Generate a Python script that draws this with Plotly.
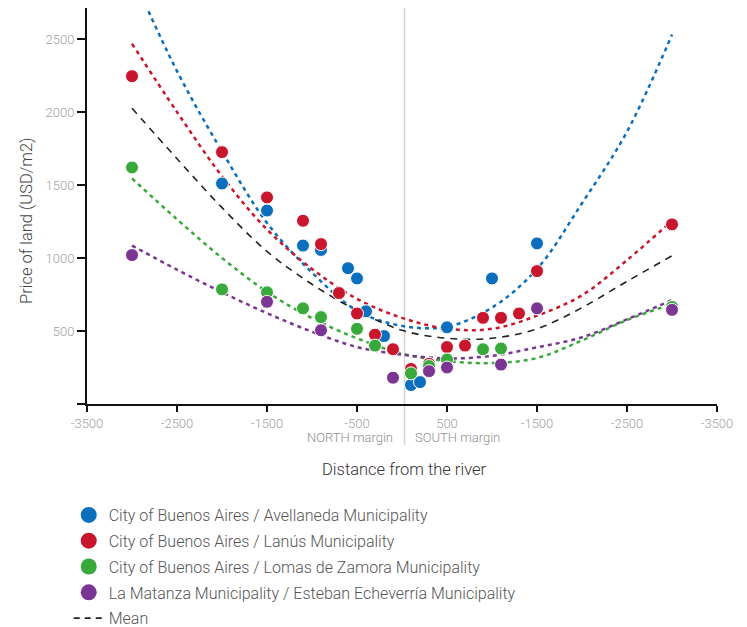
import plotly.graph_objects as go

# ---------------- data ----------------
series_names = [
    "City of Buenos Aires / Avellaneda Municipality",
    "City of Buenos Aires / Lanús Municipality",
    "City of Buenos Aires / Lomas de Zamora Municipality",
    "La Matanza Municipality / Esteban Echeverría Municipality",
]
series_colors = ["#0b6fbd", "#c8162c", "#38a93a", "#7b3593"]

blue_x = [-2000, -1500, -1100, -900, -600, -500, -400, -200, 100, 200, 500, 1000, 1500]
blue_y = [1510, 1325, 1085, 1055, 930, 860, 635, 465, 130, 150, 525, 860, 1100]

red_x = [-3000, -2000, -1500, -1100, -900, -700, -500, -300, -100, 100, 300, 500, 700, 900, 1100, 1300, 1500, 3000]
red_y = [2245, 1725, 1415, 1255, 1095, 760, 620, 475, 375, 240, 275, 390, 400, 590, 590, 620, 910, 1230]

green_x = [-3000, -2000, -1500, -1100, -900, -500, -300, 100, 300, 500, 900, 1100, 3000]
green_y = [1620, 785, 765, 655, 595, 515, 400, 210, 260, 305, 375, 380, 665]

purple_x = [-3000, -1500, -900, -100, 300, 500, 1100, 1500, 3000]
purple_y = [1020, 700, 505, 180, 225, 250, 270, 655, 645]

# trend lines
trend_x = [-3000, -2500, -2000, -1500, -1000, -500, 0, 500, 1000, 1500, 2000, 2500, 3000]
blue_trend = [2940, 2280, 1730, 1240, 900, 640, 535, 530, 660, 925, 1375, 1865, 2530]
red_trend = [2467, 2000, 1560, 1195, 925, 720, 590, 516, 515, 605, 745, 985, 1255]
green_trend = [1545, 1265, 1000, 768, 588, 450, 345, 295, 280, 315, 435, 575, 685]
purple_trend = [1085, 920, 765, 622, 495, 390, 338, 312, 330, 388, 457, 580, 712]
mean_trend = [2025, 1680, 1345, 1045, 820, 640, 505, 450, 450, 515, 660, 840, 1015]

x_tickvals = [-3500, -2500, -1500, -500, 500, 1500, 2500, 3500]
x_ticktext = ["-3500", "-2500", "-1500", "-500", "500", "-1500", "-2500", "-3500"]
y_tickvals = [0, 500, 1000, 1500, 2000, 2500]
y_ticktext = ["", "500", "1000", "1500", "2000", "2500"]

FONT = "Roboto, Liberation Sans, Arial, sans-serif"
W = 300

fig = go.Figure()

series_x = [blue_x, red_x, green_x, purple_x]
series_y = [blue_y, red_y, green_y, purple_y]
trends = [blue_trend, red_trend, green_trend, purple_trend]

# trend lines
for tr, col in zip(trends, series_colors):
    fig.add_trace(go.Scatter(
        x=trend_x, y=tr, mode="lines", line=dict(color=col, width=2.5, dash="4px,4px", shape="spline"),
        showlegend=False, hoverinfo="skip"))
fig.add_trace(go.Scatter(
    x=trend_x, y=mean_trend, mode="lines",
    line=dict(color="#222222", width=1.6, dash="7px,6px", shape="spline"),
    showlegend=False, hoverinfo="skip"))

# points
for xs, ys, col, nm in zip(series_x, series_y, series_colors, series_names):
    fig.add_trace(go.Scatter(
        x=xs, y=ys, mode="markers", name=nm,
        marker=dict(color=col, size=13, line=dict(color="white", width=1)),
        showlegend=False))

# legend entries
for i, (col, nm) in enumerate(zip(series_colors, series_names)):
    fig.add_trace(go.Scatter(
        x=[None], y=[None], mode="markers", name=nm, legendgroup="g%d" % i,
        marker=dict(color=col, size=20)))
fig.add_trace(go.Scatter(
    x=[None], y=[None], mode="lines", name="Mean", legendgroup="g4",
    line=dict(color="#222222", width=1.6, dash="6px,5px")))

# vertical river line
fig.add_shape(type="line", xref="x", yref="paper", xsizemode="pixel", xanchor=0,
              x0=2.5, x1=2.5, y0=-0.103, y1=1.0,
              line=dict(color="#d4d4d4", width=1.5), layer="below")

fig.add_annotation(x=0, y=-0.085, xref="x", yref="paper", text="NORTH margin", showarrow=False,
                   xanchor="right", yanchor="middle", xshift=-7,
                   font=dict(family=FONT, size=13, color="#8f8f8f", weight=W))
fig.add_annotation(x=0, y=-0.085, xref="x", yref="paper", text="SOUTH margin", showarrow=False,
                   xanchor="left", yanchor="middle", xshift=11,
                   font=dict(family=FONT, size=13, color="#8f8f8f", weight=W))

# axis titles
fig.add_annotation(x=0.503, y=-0.166, xref="paper", yref="paper", text="Distance from the river",
                   showarrow=False, xanchor="center", yanchor="middle",
                   font=dict(family=FONT, size=16.5, color="#333333", weight=W))
fig.add_annotation(x=-0.095, y=0.4625, xref="paper", yref="paper", text="Price of land (USD/m2)",
                   showarrow=False, xanchor="center", yanchor="middle", textangle=-90,
                   font=dict(family=FONT, size=16.5, color="#444444", weight=W))

fig.update_layout(
    width=747, height=627,
    margin=dict(l=79, r=38, t=0, b=231),
    paper_bgcolor="white", plot_bgcolor="white",
    font=dict(family=FONT, color="#555555", weight=W),
    showlegend=True,
    legend=dict(
        x=-0.029, y=-0.238, xanchor="left", yanchor="top",
        font=dict(family=FONT, size=16, color="#555555", weight=W),
        bgcolor="rgba(0,0,0,0)", tracegroupgap=2, traceorder="grouped", itemsizing="trace",
    ),
    xaxis=dict(
        range=[-3500, 3500], showgrid=False, zeroline=False,
        showline=True, linecolor="#111111", linewidth=2,
        ticks="outside", ticklen=6, tickwidth=2, tickcolor="#111111",
        tickvals=x_tickvals, ticktext=x_ticktext,
        tickfont=dict(family=FONT, size=13, color="#a0a0a0", weight=W),
        automargin=False,
    ),
    yaxis=dict(
        range=[0, 2712], showgrid=False, zeroline=False,
        showline=True, linecolor="#111111", linewidth=2,
        ticks="outside", ticklen=8, tickwidth=2, tickcolor="#111111",
        tickvals=y_tickvals, ticktext=y_ticktext,
        tickfont=dict(family=FONT, size=13, color="#a0a0a0", weight=W),
        automargin=False,
    ),
)

fig.write_html("out.html")
